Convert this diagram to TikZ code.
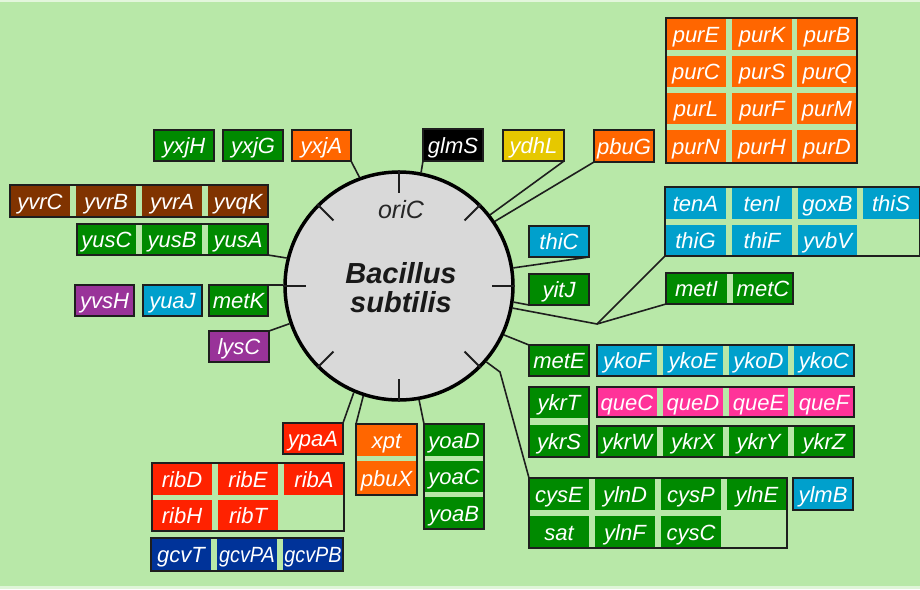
\documentclass[tikz,border=0pt]{standalone}
\usepackage{fontspec}
\setmainfont{Liberation Sans}
\usetikzlibrary{calc}
\definecolor{bgc}{RGB}{184,232,168}
\definecolor{ggrn}{RGB}{0,138,0}
\definecolor{gorg}{RGB}{255,102,0}
\definecolor{gbrn}{RGB}{128,51,0}
\definecolor{gylw}{RGB}{230,200,0}
\definecolor{gcyn}{RGB}{0,160,204}
\definecolor{gpur}{RGB}{153,51,153}
\definecolor{gpnk}{RGB}{255,51,153}
\definecolor{gred}{RGB}{255,34,0}
\definecolor{gnvy}{RGB}{0,51,153}
\definecolor{lnc}{RGB}{30,30,30}
\definecolor{circg}{RGB}{217,217,217}
\tikzset{
  cellbox/.style={rectangle, inner sep=0pt, outer sep=0pt, text=white,
    text height=17pt, text depth=1pt,
    font=\itshape\fontsize{22}{22}\selectfont},
  singlebox/.style={cellbox, draw=lnc, line width=1.5pt},
  grpframe/.style={rectangle, draw=lnc, line width=1.5pt, inner sep=0pt, outer sep=0pt},
  conn/.style={draw=lnc, line width=1.6pt},
  tickline/.style={draw=lnc, line width=2pt},
}
\newcommand{\gcell}[7]{\node[cellbox, fill=#2, minimum width={#5-#3}, minimum height={#6-#4}] (#1) at ({(#3+#5)/2},{(#4+#6)/2}) {#7};}
\newcommand{\gsingle}[7]{\node[singlebox, fill=#2, minimum width={#5-#3}, minimum height={#6-#4}] (#1) at ({(#3+#5)/2},{(#4+#6)/2}) {#7};}
\newcommand{\gframe}[5]{\node[grpframe, minimum width={#4-#2}, minimum height={#5-#3}] (#1) at ({(#2+#4)/2},{(#3+#5)/2}) {};}
\newcommand{\sq}[1]{\scalebox{0.9}[1]{#1}}
\begin{document}
\begin{tikzpicture}[x=1pt,y=-1pt]
\useasboundingbox (0,0) rectangle (920,589);
\fill[bgc] (0,0) rectangle (920,589);
\fill[white!60!bgc] (0,0) rectangle (920,1.5);
\fill[white!55!bgc] (0,586) rectangle (920,589);

% ---- singles
\gsingle{yxjH}{ggrn}{154}{130}{214}{161}{yxjH}
\gsingle{yxjG}{ggrn}{223}{130}{283}{161}{yxjG}
\gsingle{yxjA}{gorg}{292}{130}{351}{161}{yxjA}
\gsingle{glmS}{black}{423}{129}{483}{161}{glmS}
\gsingle{ydhL}{gylw}{503}{130}{564}{161}{ydhL}
\gsingle{pbuG}{gorg}{594}{130}{654}{162}{pbuG}
\gsingle{yvsH}{gpur}{75}{285}{134}{316}{yvsH}
\gsingle{yuaJ}{gcyn}{143}{285}{202}{316}{yuaJ}
\gsingle{metK}{ggrn}{209}{285}{268}{316}{metK}
\gsingle{lysC}{gpur}{209}{331}{269}{362}{lysC}
\gsingle{thiC}{gcyn}{529}{226}{589}{257}{thiC}
\gsingle{yitJ}{ggrn}{529}{274}{589}{305}{yitJ}
\gsingle{metE}{ggrn}{529}{345}{589}{376}{metE}
\gsingle{ylmB}{gcyn}{793}{478}{853}{510}{ylmB}
\gsingle{ypaA}{gred}{283}{423}{343}{454}{ypaA}

% ---- pur block
\gcell{purE}{gorg}{666}{18}{726}{50}{purE}
\gcell{purK}{gorg}{732}{18}{792}{50}{purK}
\gcell{purB}{gorg}{797}{18}{857}{50}{purB}
\gcell{purC}{gorg}{666}{56}{726}{87}{purC}
\gcell{purS}{gorg}{732}{56}{792}{87}{purS}
\gcell{purQ}{gorg}{797}{56}{857}{87}{purQ}
\gcell{purL}{gorg}{666}{93}{726}{124}{purL}
\gcell{purF}{gorg}{732}{93}{792}{124}{purF}
\gcell{purM}{gorg}{797}{93}{857}{124}{purM}
\gcell{purN}{gorg}{666}{130}{726}{163}{purN}
\gcell{purH}{gorg}{732}{130}{792}{163}{purH}
\gcell{purD}{gorg}{797}{130}{857}{163}{purD}
\gframe{gPur}{666}{18}{857}{163}

% ---- yvr
\gcell{yvrC}{gbrn}{10}{185}{70}{217}{yvrC}
\gcell{yvrB}{gbrn}{76}{185}{136}{217}{yvrB}
\gcell{yvrA}{gbrn}{142}{185}{202}{217}{yvrA}
\gcell{yvqK}{gbrn}{208}{185}{268}{217}{yvqK}
\gframe{gYvr}{10}{185}{268}{217}

% ---- yus
\gcell{yusC}{ggrn}{77}{224}{136}{255}{yusC}
\gcell{yusB}{ggrn}{142}{224}{202}{255}{yusB}
\gcell{yusA}{ggrn}{208}{224}{268}{255}{yusA}
\gframe{gYus}{77}{224}{268}{255}

% ---- ten / thi block
\gcell{tenA}{gcyn}{665}{187}{726}{219}{tenA}
\gcell{tenI}{gcyn}{732}{187}{792}{219}{tenI}
\gcell{goxB}{gcyn}{798}{187}{857}{219}{goxB}
\gcell{thiS}{gcyn}{863}{187}{919}{219}{thiS}
\gcell{thiG}{gcyn}{665}{225}{726}{256}{thiG}
\gcell{thiF}{gcyn}{732}{225}{792}{256}{thiF}
\gcell{yvbV}{gcyn}{798}{225}{857}{256}{yvbV}
\gframe{gTen}{665}{187}{919.5}{256}

% ---- met
\gcell{metI}{ggrn}{666}{273}{727}{304}{metI}
\gcell{metC}{ggrn}{733}{273}{793}{304}{metC}
\gframe{gMet}{666}{273}{793}{304}

% ---- yko
\gcell{ykoF}{gcyn}{597}{345}{657}{376}{ykoF}
\gcell{ykoE}{gcyn}{663}{345}{723}{376}{ykoE}
\gcell{ykoD}{gcyn}{729}{345}{788}{376}{ykoD}
\gcell{ykoC}{gcyn}{794}{345}{854}{376}{ykoC}
\gframe{gYko}{597}{345}{854}{376}

% ---- ykrT/S
\gcell{ykrT}{ggrn}{529}{387}{589}{418}{ykrT}
\gcell{ykrS}{ggrn}{529}{425}{589}{457}{ykrS}
\gframe{gYkrTS}{529}{387}{589}{457}

% ---- que
\gcell{queC}{gpnk}{597}{387}{657}{417}{queC}
\gcell{queD}{gpnk}{663}{387}{723}{417}{queD}
\gcell{queE}{gpnk}{729}{387}{788}{417}{queE}
\gcell{queF}{gpnk}{794}{387}{854}{417}{queF}
\gframe{gQue}{597}{387}{854}{417}

% ---- ykrW
\gcell{ykrW}{ggrn}{597}{426}{657}{457}{ykrW}
\gcell{ykrX}{ggrn}{663}{426}{723}{457}{ykrX}
\gcell{ykrY}{ggrn}{729}{426}{788}{457}{ykrY}
\gcell{ykrZ}{ggrn}{794}{426}{854}{457}{ykrZ}
\gframe{gYkrW}{597}{426}{854}{457}

% ---- cys
\gcell{cysE}{ggrn}{529}{478}{589}{510}{cysE}
\gcell{ylnD}{ggrn}{595}{478}{655}{510}{ylnD}
\gcell{cysP}{ggrn}{661}{478}{721}{510}{cysP}
\gcell{ylnE}{ggrn}{727}{478}{787}{510}{ylnE}
\gcell{sat}{ggrn}{529}{516}{589}{548}{sat}
\gcell{ylnF}{ggrn}{595}{516}{655}{548}{ylnF}
\gcell{cysC}{ggrn}{661}{516}{721}{548}{cysC}
\gframe{gCys}{529}{478}{787}{548}

% ---- xpt
\gcell{xpt}{gorg}{356}{424}{417}{456}{xpt}
\gcell{pbuX}{gorg}{356}{461}{417}{495}{pbuX}
\gframe{gXpt}{356}{424}{417}{495}

% ---- yoa
\gcell{yoaD}{ggrn}{424}{424}{484}{456}{yoaD}
\gcell{yoaC}{ggrn}{424}{461}{484}{492}{yoaC}
\gcell{yoaB}{ggrn}{424}{497}{484}{529}{yoaB}
\gframe{gYoa}{424}{424}{484}{529}

% ---- rib
\gcell{ribD}{gred}{152}{463}{212}{495}{ribD}
\gcell{ribE}{gred}{218}{463}{278}{495}{ribE}
\gcell{ribA}{gred}{284}{463}{344}{495}{ribA}
\gcell{ribH}{gred}{152}{500}{212}{531}{ribH}
\gcell{ribT}{gred}{218}{500}{278}{531}{ribT}
\gframe{gRib}{152}{463}{344}{531}

% ---- gcv
\gcell{gcvT}{gnvy}{151}{538}{211}{571}{gcvT}
\gcell{gcvPA}{gnvy}{217}{538}{277}{571}{\sq{gcvPA}}
\gcell{gcvPB}{gnvy}{283}{538}{343}{571}{\sq{gcvPB}}
\gframe{gGcv}{151}{538}{343}{571}

% ---- chromosome
\node[circle, draw=black, line width=3.5pt, fill=circg, minimum size=228pt, inner sep=0pt] (chr) at (399,286) {};
\node[anchor=base, font=\itshape\fontsize{25}{25}\selectfont, text=black!85] (ori) at (401,218) {oriC};
\node[anchor=base, font=\bfseries\itshape\fontsize{29}{29}\selectfont, text=black!90] (bac) at (401,283) {Bacillus};
\node[anchor=base, font=\bfseries\itshape\fontsize{29}{29}\selectfont, text=black!90] (sub) at (401,312) {subtilis};
\foreach \a in {0,45,...,315}
  \draw[tickline] (chr.\a) -- ($(chr.\a)!23pt!(chr.center)$);

% ---- connectors
\draw[conn] (yxjA.south east) -- (chr.110);
\draw[conn] (glmS.south west) -- (chr.79);
\draw[conn] (ydhL.south east) -- (chr.38);
\draw[conn] (pbuG.south west) -- (chr.34);
\draw[conn] (gYus.south east) -- (chr.166);
\draw[conn] (metK.north east) -- (metK.north east -| chr.west);
\draw[conn] (lysC.north east) -- (chr.199);
\draw[conn] (thiC.south east) -- (chr.9);
\draw[conn] (yitJ.south west) -- (chr.-8);
\coordinate (br) at (597,324);
\draw[conn] (chr.-11) -- (br) -- (gTen.south west);
\draw[conn] (br) -- (gMet.south west);
\draw[conn] (chr.-25) -- (metE.north west);
\coordinate (cb) at (500,372);
\draw[conn] (chr.-41) -- (cb) -- (gCys.north west);
\draw[conn] (chr.-80) -- (gYoa.north west);
\draw[conn] (chr.252) -- (gXpt.north west);
\draw[conn] (chr.247) -- (ypaA.north east);
\end{tikzpicture}
\end{document}
